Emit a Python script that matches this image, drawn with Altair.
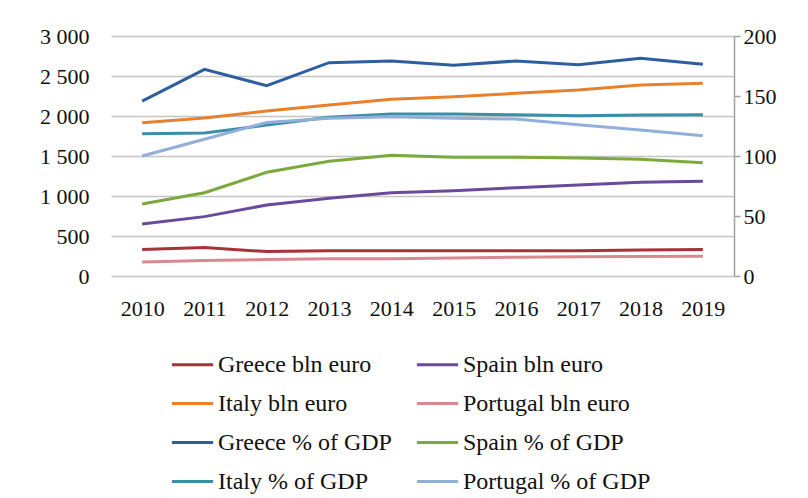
import altair as alt
import pandas as pd

years = [str(y) for y in range(2010, 2020)]

greece_bln = [330, 355, 305, 315, 315, 315, 315, 315, 325, 330]
spain_bln = [650, 742, 888, 971, 1042, 1067, 1104, 1138, 1171, 1183]
italy_bln = [1917, 1975, 2063, 2138, 2208, 2242, 2283, 2325, 2388, 2408]
portugal_bln = [175, 195, 205, 215, 215, 225, 235, 240, 245, 248]

greece_pct = [145.8, 172.2, 158.6, 177.8, 179.2, 175.6, 179.2, 176.1, 181.4, 176.4]
spain_pct = [60.0, 69.4, 86.4, 95.6, 100.6, 98.9, 98.9, 98.3, 97.2, 94.4]
italy_pct = [118.6, 119.2, 125.8, 132.2, 135.0, 135.0, 134.4, 133.6, 134.2, 134.4]
portugal_pct = [100.0, 113.9, 128.0, 131.4, 132.8, 131.4, 130.8, 126.1, 121.7, 116.9]

series_names = [
    "Greece bln euro", "Spain bln euro", "Italy bln euro", "Portugal bln euro",
    "Greece % of GDP", "Spain % of GDP", "Italy % of GDP", "Portugal % of GDP",
]
series_colors = [
    "#A8323A", "#6A4A9C", "#E8802E", "#DA8890",
    "#2F5E9E", "#7AAA3C", "#3A8EA8", "#92AEDA",
]
series_values = [
    greece_bln, spain_bln, italy_bln, portugal_bln,
    greece_pct, spain_pct, italy_pct, portugal_pct,
]

# legend is filled column by column (4 rows): reorder so rows read as in the reference
legend_order = [0, 2, 4, 6, 1, 3, 5, 7]
domain = [series_names[i] for i in legend_order]
rng = [series_colors[i] for i in legend_order]

rows = []
for name, vals in zip(series_names, series_values):
    for y, v in zip(years, vals):
        rows.append({"series": name, "year": y, "value": v,
                     "kind": "pct" if "%" in name else "bln"})
df = pd.DataFrame(rows)

FONT = "Liberation Serif"

color = alt.Color(
    "series:N",
    scale=alt.Scale(domain=domain, range=rng),
    sort=domain,
    legend=alt.Legend(
        title=None, orient="none", legendX=59, legendY=306, columns=2,
        symbolType="stroke", symbolSize=1700, symbolStrokeWidth=3,
        labelFont=FONT, labelFontSize=24, labelColor="#111111",
        columnPadding=18, rowPadding=4, labelOffset=3, padding=0,
        labelLimit=400,
    ),
)

x = alt.X(
    "year:O", title=None, sort=years,
    axis=alt.Axis(labelAngle=0, domain=False, ticks=False, labelPadding=22,
                  labelFont=FONT, labelFontSize=22, labelColor="#111111"),
)

left = alt.Chart(df).transform_filter(alt.datum.kind == "bln").mark_line(
    strokeWidth=3
).encode(
    x=x,
    y=alt.Y("value:Q", title=None,
            scale=alt.Scale(domain=[0, 3000], nice=False),
            axis=alt.Axis(values=[0, 500, 1000, 1500, 2000, 2500, 3000],
                          labelExpr="replace(format(datum.value, ','), ',', ' ')",
                          domain=False, ticks=False, labelPadding=22,
                          grid=True, gridColor="#C4C4C4", gridWidth=1.5,
                          labelFont=FONT, labelFontSize=22, labelColor="#111111")),
    color=color,
)

right = alt.Chart(df).transform_filter(alt.datum.kind == "pct").mark_line(
    strokeWidth=3
).encode(
    x=x,
    y=alt.Y("value:Q", title=None,
            scale=alt.Scale(domain=[0, 200], nice=False),
            axis=alt.Axis(orient="right", values=[0, 50, 100, 150, 200],
                          domain=True, domainColor="#A0A0A0", domainWidth=1.5,
                          ticks=True, tickColor="#A0A0A0", tickSize=6, tickWidth=1.5,
                          grid=False, labelPadding=3,
                          labelFont=FONT, labelFontSize=22, labelColor="#111111")),
    color=color,
)

chart = alt.layer(left, right).resolve_scale(y="independent").properties(
    width=623, height=240,
    autosize=alt.AutoSizeParams(type="none"),
    padding={"left": 111, "top": 36, "right": 74, "bottom": 222},
    background="white",
).configure_view(stroke=None)

chart.save("out.html", embed_options={"renderer": "svg", "actions": False})
